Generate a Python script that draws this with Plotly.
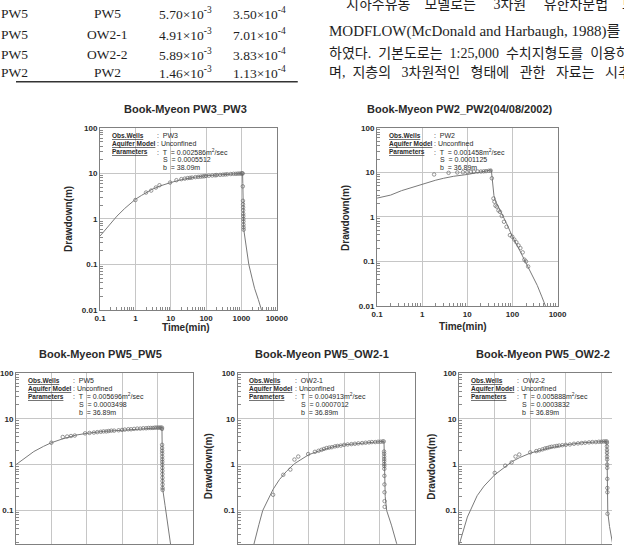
import plotly.graph_objects as go

W, H = 624, 549


def px(x):
    return x / W


def py(y):
    return 1 - y / H


# ---------------- data (time in min, drawdown in m) ----------------
# Book-Myeon PW3_PW3
pw3_fit_t = [0.1, 0.15, 0.2, 0.3, 0.5, 0.7, 1, 1.5, 2, 3, 5, 7, 10, 20, 30, 50, 100, 200, 500, 1000,
             1080, 1095, 1110, 1130, 1150, 1160, 1250, 1365, 1620, 2000, 2350, 3000, 3700]
pw3_fit_s = [0.42, 0.62, 0.82, 1.15, 1.7, 2.1, 2.7, 3.3, 3.8, 4.5, 5.3, 5.8, 6.3, 7.3, 7.8, 8.3, 8.9, 9.3, 9.7, 10.0,
             10.0, 6.0, 3.0, 1.5, 0.8, 0.6, 0.4, 0.25, 0.1, 0.05, 0.03, 0.017, 0.01]
pw3_obs_t = [1, 2.0, 2.8, 3.8, 4.8, 9.6, 14.5, 20, 25, 30, 35, 40, 50, 60, 70, 80, 90, 100, 120, 150, 180,
             200, 250, 300, 350, 400, 500, 600, 700, 800, 900, 1000, 1050,
             1085, 1095, 1105, 1110, 1115, 1120, 1125, 1130, 1135, 1140, 1145, 1150, 1155]
pw3_obs_s = [2.6, 3.8, 4.2, 4.9, 5.5, 6.3, 7.1, 7.5, 7.7, 7.9, 8.0, 8.1, 8.3, 8.4, 8.5, 8.6, 8.7, 8.8, 8.9, 9.0, 9.1,
             9.2, 9.3, 9.4, 9.5, 9.6, 9.7, 9.8, 9.8, 9.9, 9.9, 10.0, 10.0,
             10.0, 5.2, 2.5, 2.1, 1.8, 1.55, 1.3, 1.15, 1.0, 0.88, 0.75, 0.65, 0.58]

# Book-Myeon PW2_PW2(04/08/2002)
pw2_fit_t = [0.1, 0.2, 0.35, 0.6, 1, 2, 3, 5, 10, 15, 21, 28, 34, 35.5, 37, 39, 42, 48, 58, 75, 100,
             140, 184, 250, 355, 450, 540]
pw2_fit_s = [2.65, 3.1, 3.9, 4.6, 5.6, 6.7, 7.4, 8.2, 9.0, 9.6, 10.2, 10.9, 11.5, 8.0, 4.5, 3.0, 2.3, 1.7, 1.19, 0.7, 0.36,
             0.19, 0.11, 0.06, 0.029, 0.016, 0.01]
pw2_obs_t = [1.84, 3.85, 6, 8, 10, 12, 14, 17, 20, 23, 26, 30, 33, 35, 38, 40, 42, 45, 49, 53, 58, 65, 74, 88,
             99, 110, 122, 136, 150, 169, 184, 200, 223]
pw2_obs_s = [9.0, 9.8, 10.0, 10.1, 10.2, 10.3, 10.4, 10.5, 10.5, 10.6, 10.7, 10.9, 11.0, 7.4, 2.6, 2.2, 1.8, 1.7, 1.4,
             1.3, 1.05, 0.78, 0.6, 0.39, 0.36, 0.31, 0.27, 0.23, 0.2, 0.16, 0.11, 0.1, 0.077]

# Book-Myeon PW5_PW5
pw5_fit_t = [0.1, 0.2, 0.32, 0.6, 1, 2, 2.8, 5, 10, 30, 100, 300, 1000, 1350,
             1358, 1370, 1385, 1400, 1420, 1650, 1950, 2300, 2600]
pw5_fit_s = [1.0, 1.5, 1.93, 2.5, 3.0, 3.6, 3.9, 4.4, 4.8, 5.3, 5.6, 6.0, 6.4, 6.4,
             4.0, 1.6, 0.8, 0.45, 0.29, 0.13, 0.055, 0.02, 0.011]
pw5_obs_t = [1, 2.1, 2.8, 3.6, 4.6, 9, 12, 16, 20, 25, 30, 36, 42, 50, 60, 80, 100, 120, 150, 180, 220, 270,
             330, 400, 480, 560, 650, 750, 850, 950, 1050, 1150, 1250, 1350,
             1355, 1360, 1363, 1366, 1369, 1372, 1375, 1378, 1381, 1384, 1387, 1390, 1394, 1398, 1402, 1406, 1410]
pw5_obs_s = [3.0, 4.0, 4.1, 4.2, 4.3, 4.8, 4.9, 5.0, 5.1, 5.2, 5.3, 5.3, 5.4, 5.5, 5.5, 5.6, 5.7, 5.8, 5.9, 5.9,
             6.0, 6.1, 6.1, 6.2, 6.2, 6.3, 6.3, 6.3, 6.4, 6.4, 6.4, 6.4, 6.4, 6.4,
             6.0, 2.7, 2.3, 2.0, 1.75, 1.5, 1.3, 1.15, 1.0, 0.85, 0.73, 0.62, 0.52, 0.44, 0.37, 0.31, 0.28]

# Book-Myeon PW5_OW2-1
ow21_fit_t = [0.25, 0.3, 0.4, 0.51, 0.7, 1, 1.5, 2.4, 4, 6, 10, 20, 50, 100, 300, 1000, 1320,
              1340, 1370, 1400, 1430, 1570, 2140, 3000, 3600]
ow21_fit_s = [0.012, 0.022, 0.05, 0.1, 0.17, 0.29, 0.47, 0.72, 1.05, 1.3, 1.64, 2.0, 2.45, 2.7, 2.95, 3.16, 3.2,
              2.0, 0.8, 0.35, 0.2, 0.1, 0.048, 0.019, 0.011]
ow21_obs_t = [1, 1.93, 3.05, 3.98, 5.1, 9.7, 15, 19, 23, 27, 32, 38, 45, 55, 65, 80, 100, 125, 160, 200, 250,
              320, 400, 500, 600, 750, 900, 1050, 1200, 1300,
              1328, 1331, 1334, 1337, 1340, 1343, 1346, 1349, 1354, 1360, 1366, 1372, 1378]
ow21_obs_s = [0.22, 0.6, 0.78, 1.29, 1.5, 1.7, 1.9, 2.0, 2.1, 2.2, 2.3, 2.35, 2.4, 2.5, 2.55, 2.6, 2.7, 2.75, 2.8,
              2.85, 2.9, 2.95, 3.0, 3.05, 3.1, 3.1, 3.15, 3.15, 3.2, 3.2,
              1.93, 1.73, 1.5, 1.32, 1.18, 1.03, 0.93, 0.81, 0.57, 0.37, 0.25, 0.16, 0.12]

# Book-Myeon PW5_OW2-2
ow22_fit_t = [0.1, 0.12, 0.17, 0.32, 0.5, 1, 2, 3.1, 5, 10, 30, 100, 300, 1000, 1420,
              1440, 1460, 1475, 1490, 1520, 1700, 2000, 2300]
ow22_fit_s = [0.018, 0.03, 0.072, 0.21, 0.34, 0.6, 0.92, 1.17, 1.42, 1.78, 2.25, 2.7, 3.0, 3.16, 3.2,
              2.2, 1.0, 0.4, 0.15, 0.09, 0.045, 0.021, 0.012]
ow22_obs_t = [1, 1.98, 3.0, 3.85, 4.9, 10, 14.8, 18, 22, 26, 30, 35, 40, 48, 56, 65, 80, 100, 130, 170, 220,
              280, 350, 450, 560, 700, 850, 1000, 1150, 1300, 1420,
              1430, 1435, 1440, 1445, 1450, 1455, 1460, 1465, 1470, 1475, 1480, 1490]
ow22_obs_s = [0.66, 0.95, 1.12, 1.5, 1.66, 1.85, 1.97, 2.05, 2.15, 2.25, 2.3, 2.4, 2.45, 2.5, 2.55, 2.6, 2.65,
              2.7, 2.75, 2.85, 2.9, 2.95, 3.0, 3.05, 3.1, 3.1, 3.15, 3.15, 3.2, 3.2, 3.2,
              3.0, 2.5, 2.1, 1.8, 1.5, 1.3, 1.0, 0.85, 0.49, 0.31, 0.25, 0.085]

titles = ["Book-Myeon PW3_PW3", "Book-Myeon PW2_PW2(04/08/2002)", "Book-Myeon PW5_PW5",
          "Book-Myeon PW5_OW2-1", "Book-Myeon PW5_OW2-2"]
obs_wells = ["PW3", "PW2", "PW5", "OW2-1", "OW2-2"]
param_T = ["0.002586", "0.001458", "0.005696", "0.004913", "0.005888"]
param_S = ["0.0005512", "0.0001125", "0.0003498", "0.0007012", "0.0003832"]
param_b = ["38.09m", "36.89m", "36.89m", "36.89m", "36.89m"]

x_tick_vals = [0.1, 1, 10, 100, 1000, 10000]
x_tick_text = ["0.1", "1", "10", "100", "1000", "10000"]
y_tick_vals = [0.01, 0.1, 1, 10, 100]
y_tick_text = ["0.01", "0.1", "1", "10", "100"]

table_col1 = ["PW5", "PW5", "PW5", "PW2"]
table_col2 = ["PW5", "OW2-1", "OW2-2", "PW2"]
table_col3 = ["5.70×10<sup>-3</sup>", "4.91×10<sup>-3</sup>", "5.89×10<sup>-3</sup>", "1.46×10<sup>-3</sup>"]
table_col4 = ["3.50×10<sup>-4</sup>", "7.01×10<sup>-4</sup>", "3.83×10<sup>-4</sup>", "1.13×10<sup>-4</sup>"]

NB = "\u00a0"
body_lines = [
    "지하수유동\u3000모델로는\u3000" + NB + "3차원\u3000" + NB + "유한차분법\u3000모",
    "MODFLOW(McDonald and Harbaugh, 1988)를",
    "하였다." + NB * 2 + "기본도로는" + NB * 2 + "1:25,000" + NB * 2 + "수치지형도를" + NB * 2 + "이용하",
    "며," + NB * 2 + "지층의" + NB * 3 + "3차원적인" + NB * 3 + "형태에" + NB * 3 + "관한" + NB * 3
    + "자료는" + NB * 3 + "시추자",
]
body_sizes = [14, 15, 14, 14]

series = [
    (pw3_fit_t, pw3_fit_s, pw3_obs_t, pw3_obs_s),
    (pw2_fit_t, pw2_fit_s, pw2_obs_t, pw2_obs_s),
    (pw5_fit_t, pw5_fit_s, pw5_obs_t, pw5_obs_s),
    (ow21_fit_t, ow21_fit_s, ow21_obs_t, ow21_obs_s),
    (ow22_fit_t, ow22_fit_s, ow22_obs_t, ow22_obs_s),
]

# ---------------- layout geometry (pixels) ----------------
panels = [
    dict(x0=88, x1=273, y0=126, y1=311, xr=[-1, 4], yr=[-2, 2], bottom=True, title_x=177, title_y=107,
         ylab_x=55, ylab_y=219, xlab=(178, 329), right=True),
    dict(x0=378, x1=567, y0=126, y1=307, xr=[-1, 3], yr=[-2, 2], bottom=True, title_x=465, title_y=107,
         ylab_x=345, ylab_y=218, xlab=(468, 328), right=True),
    dict(x0=0, x1=185, y0=375, y1=549, xr=[-1, 4], yr=[-1.73, 2], bottom=False, title_x=88, title_y=356,
         ylab_x=None, ylab_y=None, xlab=None, right=True),
    dict(x0=232, x1=418, y0=375, y1=549, xr=[-1, 4], yr=[-1.73, 2], bottom=False, title_x=320, title_y=356,
         ylab_x=201, ylab_y=470, xlab=None, right=True),
    dict(x0=464, x1=624, y0=375, y1=549, xr=[-1, 3.30], yr=[-1.73, 2], bottom=False, title_x=552, title_y=356,
         ylab_x=435, ylab_y=470, xlab=None, right=False),
]

minor_vals = [m * 10 ** e for e in range(-2, 4) for m in range(2, 10)]

SANS = "Liberation Sans, Arial, sans-serif"
SERIF = "Liberation Serif, Noto Sans CJK KR, serif"
TXT = "#2a2a2a"
GRID = "#c6c6c6"
LINE = "#808080"

fig = go.Figure()
layout = dict(
    width=W, height=H, margin=dict(l=0, r=0, t=0, b=0),
    paper_bgcolor="white", plot_bgcolor="white", showlegend=False,
)
annotations = []

for i, (p, (ft, fs, ot, os_)) in enumerate(zip(panels, series), start=1):
    xs = "x" if i == 1 else f"x{i}"
    ys = "y" if i == 1 else f"y{i}"
    xa = "xaxis" if i == 1 else f"xaxis{i}"
    ya = "yaxis" if i == 1 else f"yaxis{i}"
    fig.add_trace(go.Scatter(x=ft, y=fs, mode="lines", xaxis=xs, yaxis=ys,
                             line=dict(color="#7a7a7a", width=1), hoverinfo="skip"))
    fig.add_trace(go.Scatter(x=ot, y=os_, mode="markers", xaxis=xs, yaxis=ys,
                             marker=dict(symbol="circle-open", size=3.5, color="#6a6a6a",
                                         line=dict(width=0.7, color="#6a6a6a"))))
    layout[xa] = dict(
        type="log", domain=[px(p["x0"]), px(p["x1"])], range=p["xr"], anchor=ys,
        tickmode="array", tickvals=x_tick_vals, ticktext=x_tick_text, ticks="",
        showgrid=True, gridcolor=GRID, gridwidth=1,
        showline=True, linecolor=LINE, linewidth=1, mirror=True,
        tickfont=dict(family=SANS, size=8, color=TXT, weight="bold"),
        showticklabels=p["bottom"],
        minor=dict(tickmode="array", tickvals=minor_vals, ticks="inside" if p["bottom"] else "",
                   ticklen=3, tickcolor="#8a8a8a", showgrid=False),
        fixedrange=True,
    )
    layout[ya] = dict(
        type="log", domain=[py(p["y1"]), py(p["y0"])], range=p["yr"], anchor=xs,
        tickmode="array", tickvals=y_tick_vals, ticktext=y_tick_text, ticks="",
        showgrid=True, gridcolor=GRID, gridwidth=1,
        showline=True, linecolor=LINE, linewidth=1, mirror=p["right"],
        tickfont=dict(family=SANS, size=8, color=TXT, weight="bold"),
        minor=dict(tickmode="array", tickvals=minor_vals, ticks="inside",
                   ticklen=3, tickcolor="#8a8a8a", showgrid=False),
        fixedrange=True,
    )
    # title
    annotations.append(dict(x=px(p["title_x"]), y=py(p["title_y"]), xref="paper", yref="paper",
                            text="<b>" + titles[i - 1] + "</b>", showarrow=False,
                            xanchor="center", yanchor="middle",
                            font=dict(family=SANS, size=11, color=TXT)))
    if p["ylab_x"] is not None:
        annotations.append(dict(x=px(p["ylab_x"]), y=py(p["ylab_y"]), xref="paper", yref="paper",
                                text="<b>Drawdown(m)</b>", showarrow=False, textangle=-90,
                                xanchor="center", yanchor="middle",
                                font=dict(family=SANS, size=10, color=TXT)))
    if p["xlab"] is not None:
        annotations.append(dict(x=px(p["xlab"][0]), y=py(p["xlab"][1]), xref="paper", yref="paper",
                                text="<b>Time(min)</b>", showarrow=False,
                                xanchor="center", yanchor="middle",
                                font=dict(family=SANS, size=10, color=TXT)))
    # parameter box
    L, T = p["x0"], p["y0"]
    lab_font = dict(family=SANS, size=6.5, color=TXT)
    val_font = dict(family=SANS, size=7, color=TXT)
    box = [
        (L + 10, T + 8, "<b><u>Obs.Wells</u></b>", lab_font),
        (L + 10, T + 16, "<b><u>Aquifer Model</u></b>", lab_font),
        (L + 10, T + 24, "<b><u>Parameters</u></b>", lab_font),
        (L + 58, T + 8, ":  " + obs_wells[i - 1], val_font),
        (L + 58, T + 16, ": Unconfined", val_font),
        (L + 58, T + 24, ":  T  = " + param_T[i - 1] + "m<sup>2</sup>/sec", val_font),
        (L + 64, T + 32, "S  = " + param_S[i - 1], val_font),
        (L + 64, T + 40, "b  = " + param_b[i - 1], val_font),
    ]
    for bx, by, btxt, bfont in box:
        annotations.append(dict(x=px(bx), y=py(by), xref="paper", yref="paper", text=btxt,
                                showarrow=False, xanchor="left", yanchor="middle", font=bfont))

# ---------------- table fragment ----------------
row_y = [10, 31, 51, 70]
tfont = dict(family="Liberation Serif, serif", size=13.5, color="#1e1e1e")
for r, yy in enumerate(row_y):
    annotations.append(dict(x=px(15), y=py(yy), xref="paper", yref="paper", text=table_col1[r],
                            showarrow=False, xanchor="right", yanchor="middle", font=tfont))
    annotations.append(dict(x=px(96), y=py(yy), xref="paper", yref="paper", text=table_col2[r],
                            showarrow=False, xanchor="center", yanchor="middle", font=tfont))
    annotations.append(dict(x=px(177), y=py(yy), xref="paper", yref="paper", text=table_col3[r],
                            showarrow=False, xanchor="center", yanchor="middle", font=tfont))
    annotations.append(dict(x=px(255), y=py(yy), xref="paper", yref="paper", text=table_col4[r],
                            showarrow=False, xanchor="center", yanchor="middle", font=tfont))

layout["shapes"] = [dict(type="line", xref="paper", yref="paper", x0=0, x1=px(295),
                         y0=py(79), y1=py(79), line=dict(color="#333333", width=1.6))]

# ---------------- body text (Korean) ----------------
body_pos = [(343, 0), (326, 28), (326, 50), (326, 70)]
for (bx, by), line, fsz in zip(body_pos, body_lines, body_sizes):
    annotations.append(dict(x=px(bx), y=py(by), xref="paper", yref="paper", text=line,
                            showarrow=False, xanchor="left", yanchor="middle",
                            font=dict(family=SERIF, size=fsz, color="#1e1e1e")))

layout["annotations"] = annotations
fig.update_layout(**layout)
fig.write_html("out.html")
